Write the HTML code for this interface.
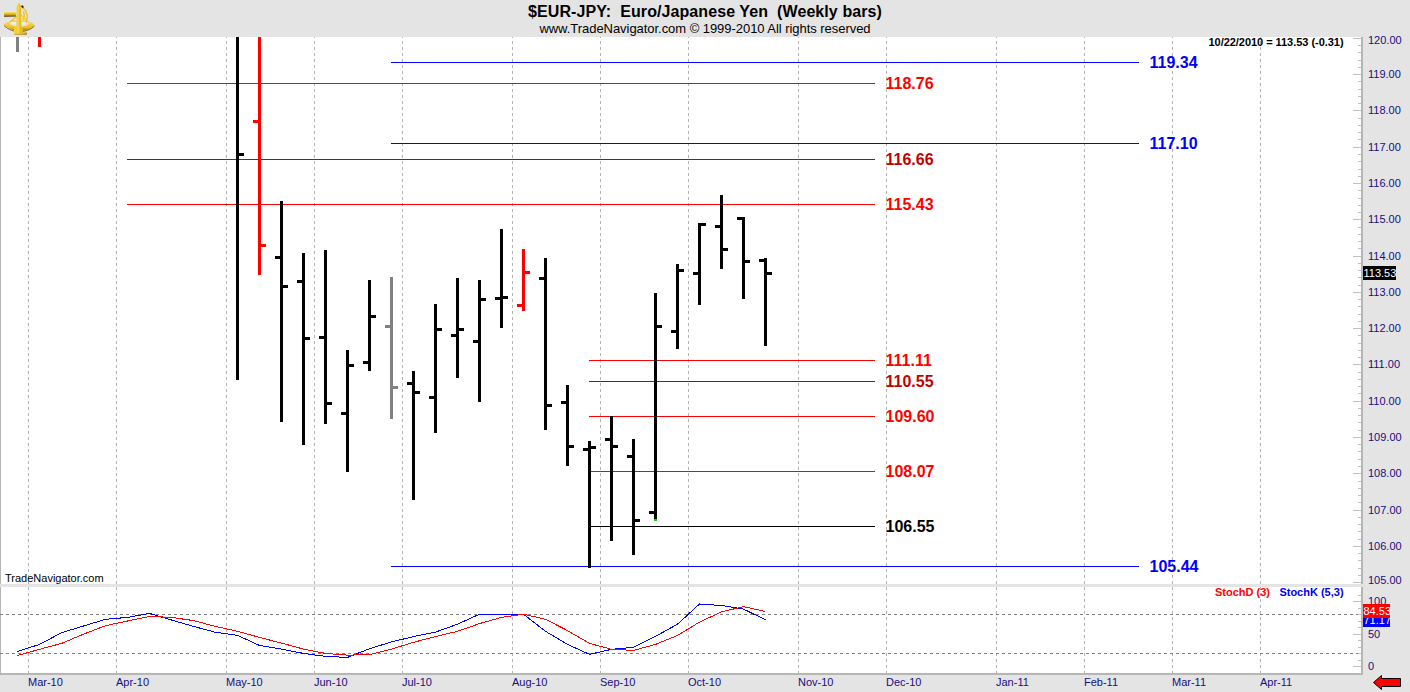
<!DOCTYPE html><html><head><meta charset="utf-8"><title>$EUR-JPY Weekly</title><style>
html,body{margin:0;padding:0}
body{width:1410px;height:692px;overflow:hidden;background:#e4e4e4;position:relative;font-family:"Liberation Sans",Arial,sans-serif}
.t{position:absolute;white-space:nowrap;line-height:1}
.ttl{left:0;width:1410px;text-align:center;font-weight:bold;font-size:16px;color:#000;top:4px;letter-spacing:0.08px}
.sub{left:0px;width:1410px;text-align:center;font-size:13px;color:#000;top:22px;letter-spacing:-0.045px}
.pl{font-weight:bold;font-size:16px}
.ax{font-size:11px;color:#160e82}
.dt{font-size:11px;color:#160e82}
.b11{font-weight:bold;font-size:11px}
svg{position:absolute;left:0;top:0}

</style></head><body>
<svg width="1410" height="692" viewBox="0 0 1410 692">
<g shape-rendering="crispEdges">
<rect x="0" y="37" width="1363" height="547" fill="#fff"/>
<rect x="0" y="587" width="1363" height="88" fill="#fff"/>
<rect x="0" y="37" width="1" height="547" fill="#b6b6b6"/>
<rect x="0" y="587" width="1" height="88" fill="#b6b6b6"/>
<rect x="1361" y="37" width="2" height="547" fill="#b6b6b6"/>
<rect x="1361" y="587" width="2" height="88" fill="#b6b6b6"/>
<rect x="0" y="673" width="1363" height="2" fill="#b6b6b6"/>
<line x1="28.5" x2="28.5" y1="35" y2="584" stroke="#b4b4b4" stroke-width="1" stroke-dasharray="3 3"/>
<line x1="28.5" x2="28.5" y1="587" y2="673" stroke="#b4b4b4" stroke-width="1" stroke-dasharray="3 3"/>
<line x1="116.5" x2="116.5" y1="35" y2="584" stroke="#b4b4b4" stroke-width="1" stroke-dasharray="3 3"/>
<line x1="116.5" x2="116.5" y1="587" y2="673" stroke="#b4b4b4" stroke-width="1" stroke-dasharray="3 3"/>
<line x1="226.5" x2="226.5" y1="35" y2="584" stroke="#b4b4b4" stroke-width="1" stroke-dasharray="3 3"/>
<line x1="226.5" x2="226.5" y1="587" y2="673" stroke="#b4b4b4" stroke-width="1" stroke-dasharray="3 3"/>
<line x1="314.5" x2="314.5" y1="35" y2="584" stroke="#b4b4b4" stroke-width="1" stroke-dasharray="3 3"/>
<line x1="314.5" x2="314.5" y1="587" y2="673" stroke="#b4b4b4" stroke-width="1" stroke-dasharray="3 3"/>
<line x1="402.5" x2="402.5" y1="35" y2="584" stroke="#b4b4b4" stroke-width="1" stroke-dasharray="3 3"/>
<line x1="402.5" x2="402.5" y1="587" y2="673" stroke="#b4b4b4" stroke-width="1" stroke-dasharray="3 3"/>
<line x1="512.5" x2="512.5" y1="35" y2="584" stroke="#b4b4b4" stroke-width="1" stroke-dasharray="3 3"/>
<line x1="512.5" x2="512.5" y1="587" y2="673" stroke="#b4b4b4" stroke-width="1" stroke-dasharray="3 3"/>
<line x1="600.5" x2="600.5" y1="35" y2="584" stroke="#b4b4b4" stroke-width="1" stroke-dasharray="3 3"/>
<line x1="600.5" x2="600.5" y1="587" y2="673" stroke="#b4b4b4" stroke-width="1" stroke-dasharray="3 3"/>
<line x1="688.5" x2="688.5" y1="35" y2="584" stroke="#b4b4b4" stroke-width="1" stroke-dasharray="3 3"/>
<line x1="688.5" x2="688.5" y1="587" y2="673" stroke="#b4b4b4" stroke-width="1" stroke-dasharray="3 3"/>
<line x1="798.5" x2="798.5" y1="35" y2="584" stroke="#b4b4b4" stroke-width="1" stroke-dasharray="3 3"/>
<line x1="798.5" x2="798.5" y1="587" y2="673" stroke="#b4b4b4" stroke-width="1" stroke-dasharray="3 3"/>
<line x1="886.5" x2="886.5" y1="35" y2="584" stroke="#b4b4b4" stroke-width="1" stroke-dasharray="3 3"/>
<line x1="886.5" x2="886.5" y1="587" y2="673" stroke="#b4b4b4" stroke-width="1" stroke-dasharray="3 3"/>
<line x1="996.5" x2="996.5" y1="35" y2="584" stroke="#b4b4b4" stroke-width="1" stroke-dasharray="3 3"/>
<line x1="996.5" x2="996.5" y1="587" y2="673" stroke="#b4b4b4" stroke-width="1" stroke-dasharray="3 3"/>
<line x1="1084.5" x2="1084.5" y1="35" y2="584" stroke="#b4b4b4" stroke-width="1" stroke-dasharray="3 3"/>
<line x1="1084.5" x2="1084.5" y1="587" y2="673" stroke="#b4b4b4" stroke-width="1" stroke-dasharray="3 3"/>
<line x1="1172.5" x2="1172.5" y1="35" y2="584" stroke="#b4b4b4" stroke-width="1" stroke-dasharray="3 3"/>
<line x1="1172.5" x2="1172.5" y1="587" y2="673" stroke="#b4b4b4" stroke-width="1" stroke-dasharray="3 3"/>
<line x1="1260.5" x2="1260.5" y1="35" y2="584" stroke="#b4b4b4" stroke-width="1" stroke-dasharray="3 3"/>
<line x1="1260.5" x2="1260.5" y1="587" y2="673" stroke="#b4b4b4" stroke-width="1" stroke-dasharray="3 3"/>
<rect x="0" y="0" width="1410" height="37" fill="#e4e4e4"/>
<line x1="0" x2="1361" y1="614.5" y2="614.5" stroke="#808080" stroke-width="1" stroke-dasharray="3 3"/>
<line x1="0" x2="1361" y1="653.5" y2="653.5" stroke="#808080" stroke-width="1" stroke-dasharray="3 3"/>
<rect x="1353" y="38" width="8" height="1" fill="#c0c0c0"/>
<rect x="1358" y="45" width="3" height="1" fill="#c0c0c0"/>
<rect x="1358" y="52" width="3" height="1" fill="#c0c0c0"/>
<rect x="1358" y="60" width="3" height="1" fill="#c0c0c0"/>
<rect x="1358" y="67" width="3" height="1" fill="#c0c0c0"/>
<rect x="1353" y="74" width="8" height="1" fill="#c0c0c0"/>
<rect x="1358" y="81" width="3" height="1" fill="#c0c0c0"/>
<rect x="1358" y="89" width="3" height="1" fill="#c0c0c0"/>
<rect x="1358" y="96" width="3" height="1" fill="#c0c0c0"/>
<rect x="1358" y="103" width="3" height="1" fill="#c0c0c0"/>
<rect x="1353" y="110" width="8" height="1" fill="#c0c0c0"/>
<rect x="1358" y="118" width="3" height="1" fill="#c0c0c0"/>
<rect x="1358" y="125" width="3" height="1" fill="#c0c0c0"/>
<rect x="1358" y="132" width="3" height="1" fill="#c0c0c0"/>
<rect x="1358" y="139" width="3" height="1" fill="#c0c0c0"/>
<rect x="1353" y="147" width="8" height="1" fill="#c0c0c0"/>
<rect x="1358" y="154" width="3" height="1" fill="#c0c0c0"/>
<rect x="1358" y="161" width="3" height="1" fill="#c0c0c0"/>
<rect x="1358" y="169" width="3" height="1" fill="#c0c0c0"/>
<rect x="1358" y="176" width="3" height="1" fill="#c0c0c0"/>
<rect x="1353" y="183" width="8" height="1" fill="#c0c0c0"/>
<rect x="1358" y="190" width="3" height="1" fill="#c0c0c0"/>
<rect x="1358" y="198" width="3" height="1" fill="#c0c0c0"/>
<rect x="1358" y="205" width="3" height="1" fill="#c0c0c0"/>
<rect x="1358" y="212" width="3" height="1" fill="#c0c0c0"/>
<rect x="1353" y="219" width="8" height="1" fill="#c0c0c0"/>
<rect x="1358" y="227" width="3" height="1" fill="#c0c0c0"/>
<rect x="1358" y="234" width="3" height="1" fill="#c0c0c0"/>
<rect x="1358" y="241" width="3" height="1" fill="#c0c0c0"/>
<rect x="1358" y="248" width="3" height="1" fill="#c0c0c0"/>
<rect x="1353" y="256" width="8" height="1" fill="#c0c0c0"/>
<rect x="1358" y="263" width="3" height="1" fill="#c0c0c0"/>
<rect x="1358" y="270" width="3" height="1" fill="#c0c0c0"/>
<rect x="1358" y="277" width="3" height="1" fill="#c0c0c0"/>
<rect x="1358" y="285" width="3" height="1" fill="#c0c0c0"/>
<rect x="1353" y="292" width="8" height="1" fill="#c0c0c0"/>
<rect x="1358" y="299" width="3" height="1" fill="#c0c0c0"/>
<rect x="1358" y="306" width="3" height="1" fill="#c0c0c0"/>
<rect x="1358" y="314" width="3" height="1" fill="#c0c0c0"/>
<rect x="1358" y="321" width="3" height="1" fill="#c0c0c0"/>
<rect x="1353" y="328" width="8" height="1" fill="#c0c0c0"/>
<rect x="1358" y="335" width="3" height="1" fill="#c0c0c0"/>
<rect x="1358" y="343" width="3" height="1" fill="#c0c0c0"/>
<rect x="1358" y="350" width="3" height="1" fill="#c0c0c0"/>
<rect x="1358" y="357" width="3" height="1" fill="#c0c0c0"/>
<rect x="1353" y="364" width="8" height="1" fill="#c0c0c0"/>
<rect x="1358" y="372" width="3" height="1" fill="#c0c0c0"/>
<rect x="1358" y="379" width="3" height="1" fill="#c0c0c0"/>
<rect x="1358" y="386" width="3" height="1" fill="#c0c0c0"/>
<rect x="1358" y="393" width="3" height="1" fill="#c0c0c0"/>
<rect x="1353" y="401" width="8" height="1" fill="#c0c0c0"/>
<rect x="1358" y="408" width="3" height="1" fill="#c0c0c0"/>
<rect x="1358" y="415" width="3" height="1" fill="#c0c0c0"/>
<rect x="1358" y="422" width="3" height="1" fill="#c0c0c0"/>
<rect x="1358" y="430" width="3" height="1" fill="#c0c0c0"/>
<rect x="1353" y="437" width="8" height="1" fill="#c0c0c0"/>
<rect x="1358" y="444" width="3" height="1" fill="#c0c0c0"/>
<rect x="1358" y="451" width="3" height="1" fill="#c0c0c0"/>
<rect x="1358" y="459" width="3" height="1" fill="#c0c0c0"/>
<rect x="1358" y="466" width="3" height="1" fill="#c0c0c0"/>
<rect x="1353" y="473" width="8" height="1" fill="#c0c0c0"/>
<rect x="1358" y="481" width="3" height="1" fill="#c0c0c0"/>
<rect x="1358" y="488" width="3" height="1" fill="#c0c0c0"/>
<rect x="1358" y="495" width="3" height="1" fill="#c0c0c0"/>
<rect x="1358" y="502" width="3" height="1" fill="#c0c0c0"/>
<rect x="1353" y="510" width="8" height="1" fill="#c0c0c0"/>
<rect x="1358" y="517" width="3" height="1" fill="#c0c0c0"/>
<rect x="1358" y="524" width="3" height="1" fill="#c0c0c0"/>
<rect x="1358" y="531" width="3" height="1" fill="#c0c0c0"/>
<rect x="1358" y="539" width="3" height="1" fill="#c0c0c0"/>
<rect x="1353" y="546" width="8" height="1" fill="#c0c0c0"/>
<rect x="1358" y="553" width="3" height="1" fill="#c0c0c0"/>
<rect x="1358" y="560" width="3" height="1" fill="#c0c0c0"/>
<rect x="1358" y="568" width="3" height="1" fill="#c0c0c0"/>
<rect x="1358" y="575" width="3" height="1" fill="#c0c0c0"/>
<rect x="1353" y="582" width="8" height="1" fill="#c0c0c0"/>
<rect x="1353" y="666" width="8" height="1" fill="#c0c0c0"/>
<rect x="1358" y="660" width="3" height="1" fill="#c0c0c0"/>
<rect x="1358" y="653" width="3" height="1" fill="#c0c0c0"/>
<rect x="1358" y="647" width="3" height="1" fill="#c0c0c0"/>
<rect x="1358" y="640" width="3" height="1" fill="#c0c0c0"/>
<rect x="1353" y="634" width="8" height="1" fill="#c0c0c0"/>
<rect x="1358" y="627" width="3" height="1" fill="#c0c0c0"/>
<rect x="1358" y="621" width="3" height="1" fill="#c0c0c0"/>
<rect x="1358" y="614" width="3" height="1" fill="#c0c0c0"/>
<rect x="1358" y="608" width="3" height="1" fill="#c0c0c0"/>
<rect x="1353" y="601" width="8" height="1" fill="#c0c0c0"/>
<rect x="1358" y="595" width="3" height="1" fill="#c0c0c0"/>
<rect x="391" y="62" width="748" height="1" fill="#0000ff"/>
<rect x="391" y="143" width="748" height="1" fill="#0000ff"/>
<rect x="391" y="566" width="748" height="1" fill="#0000ff"/>
<rect x="127" y="83" width="748" height="1" fill="#ff0000"/>
<rect x="127" y="159" width="748" height="1" fill="#c40000"/>
<rect x="127" y="204" width="748" height="1" fill="#ff0000"/>
<rect x="589" y="360" width="286" height="1" fill="#ff0000"/>
<rect x="589" y="381" width="286" height="1" fill="#c40000"/>
<rect x="589" y="416" width="286" height="1" fill="#ff0000"/>
<rect x="589" y="471" width="286" height="1" fill="#ff0000"/>
<rect x="589" y="526" width="286" height="1" fill="#000"/>
<rect x="16" y="37" width="3" height="15" fill="#808080"/>
<rect x="38" y="37" width="3" height="10" fill="#ff0000"/>
<rect x="236" y="37" width="3" height="343" fill="#000"/>
<rect x="239" y="153" width="5" height="3" fill="#000"/>
<rect x="258" y="37" width="3" height="238" fill="#ff0000"/>
<rect x="253" y="120" width="5" height="3" fill="#ff0000"/>
<rect x="261" y="244" width="5" height="3" fill="#ff0000"/>
<rect x="280" y="201" width="3" height="221" fill="#000"/>
<rect x="275" y="256" width="5" height="3" fill="#000"/>
<rect x="283" y="285" width="5" height="3" fill="#000"/>
<rect x="302" y="253" width="3" height="192" fill="#000"/>
<rect x="297" y="280" width="5" height="3" fill="#000"/>
<rect x="305" y="337" width="5" height="3" fill="#000"/>
<rect x="324" y="250" width="3" height="174" fill="#000"/>
<rect x="319" y="336" width="5" height="3" fill="#000"/>
<rect x="327" y="402" width="5" height="3" fill="#000"/>
<rect x="346" y="350" width="3" height="122" fill="#000"/>
<rect x="341" y="412" width="5" height="3" fill="#000"/>
<rect x="349" y="364" width="5" height="3" fill="#000"/>
<rect x="368" y="280" width="3" height="91" fill="#000"/>
<rect x="363" y="361" width="5" height="3" fill="#000"/>
<rect x="371" y="315" width="5" height="3" fill="#000"/>
<rect x="390" y="277" width="3" height="142" fill="#808080"/>
<rect x="385" y="325" width="5" height="3" fill="#808080"/>
<rect x="393" y="386" width="5" height="3" fill="#808080"/>
<rect x="412" y="371" width="3" height="129" fill="#000"/>
<rect x="407" y="382" width="5" height="3" fill="#000"/>
<rect x="415" y="391" width="5" height="3" fill="#000"/>
<rect x="434" y="304" width="3" height="129" fill="#000"/>
<rect x="429" y="396" width="5" height="3" fill="#000"/>
<rect x="437" y="328" width="5" height="3" fill="#000"/>
<rect x="456" y="278" width="3" height="100" fill="#000"/>
<rect x="451" y="334" width="5" height="3" fill="#000"/>
<rect x="459" y="328" width="5" height="3" fill="#000"/>
<rect x="478" y="280" width="3" height="122" fill="#000"/>
<rect x="473" y="340" width="5" height="3" fill="#000"/>
<rect x="481" y="298" width="5" height="3" fill="#000"/>
<rect x="500" y="229" width="3" height="99" fill="#000"/>
<rect x="495" y="297" width="5" height="3" fill="#000"/>
<rect x="503" y="296" width="5" height="3" fill="#000"/>
<rect x="522" y="249" width="3" height="62" fill="#ff0000"/>
<rect x="517" y="304" width="5" height="3" fill="#ff0000"/>
<rect x="525" y="271" width="5" height="3" fill="#ff0000"/>
<rect x="544" y="258" width="3" height="172" fill="#000"/>
<rect x="539" y="277" width="5" height="3" fill="#000"/>
<rect x="547" y="404" width="5" height="3" fill="#000"/>
<rect x="566" y="385" width="3" height="81" fill="#000"/>
<rect x="561" y="401" width="5" height="3" fill="#000"/>
<rect x="569" y="445" width="5" height="3" fill="#000"/>
<rect x="588" y="441" width="3" height="127" fill="#000"/>
<rect x="583" y="448" width="5" height="3" fill="#000"/>
<rect x="591" y="446" width="5" height="3" fill="#000"/>
<rect x="610" y="416" width="3" height="125" fill="#000"/>
<rect x="605" y="438" width="5" height="3" fill="#000"/>
<rect x="613" y="445" width="5" height="3" fill="#000"/>
<rect x="632" y="439" width="3" height="116" fill="#000"/>
<rect x="627" y="455" width="5" height="3" fill="#000"/>
<rect x="635" y="519" width="5" height="3" fill="#000"/>
<rect x="654" y="293" width="3" height="226" fill="#000"/>
<rect x="649" y="511" width="5" height="3" fill="#000"/>
<rect x="657" y="325" width="5" height="3" fill="#000"/>
<rect x="676" y="264" width="3" height="85" fill="#000"/>
<rect x="671" y="330" width="5" height="3" fill="#000"/>
<rect x="679" y="269" width="5" height="3" fill="#000"/>
<rect x="698" y="223" width="3" height="82" fill="#000"/>
<rect x="693" y="272" width="5" height="3" fill="#000"/>
<rect x="701" y="223" width="5" height="3" fill="#000"/>
<rect x="720" y="195" width="3" height="74" fill="#000"/>
<rect x="715" y="225" width="5" height="3" fill="#000"/>
<rect x="723" y="248" width="5" height="3" fill="#000"/>
<rect x="742" y="217" width="3" height="82" fill="#000"/>
<rect x="737" y="217" width="5" height="3" fill="#000"/>
<rect x="745" y="260" width="5" height="3" fill="#000"/>
<rect x="764" y="258" width="3" height="88" fill="#000"/>
<rect x="759" y="259" width="5" height="3" fill="#000"/>
<rect x="767" y="272" width="5" height="3" fill="#000"/>
<rect x="654" y="519" width="3" height="2" fill="#00e000"/>
<polyline fill="none" stroke="#0000ff" stroke-width="1" points="17.5,651.5 39.5,644.4 61.5,632.7 83.5,626 105.5,619.3 127.5,617.4 149.5,613.4 171.5,620 193.5,626.4 215.5,632.3 237.5,635.3 259.5,645.5 281.5,649.1 303.5,653.4 325.5,656.4 347.5,657.4 369.5,648.7 391.5,641.9 413.5,636.6 435.5,632.1 457.5,624.2 479.5,614.2 501.5,614.2 523.5,614.2 545.5,631.3 567.5,644.4 589.5,654.4 611.5,649.3 633.5,647.4 655.5,636.4 677.5,624.2 699.5,604 721.5,605.5 743.5,609.1 765.5,619.8"/>
<polyline fill="none" stroke="#ff0000" stroke-width="1" points="17.5,655.5 39.5,649.3 61.5,643.4 83.5,634.2 105.5,625.7 127.5,621 149.5,616.4 171.5,617.4 193.5,620.6 215.5,626.4 237.5,631.3 259.5,637.4 281.5,643.1 303.5,649.1 325.5,653.4 347.5,655.1 369.5,654.7 391.5,649.1 413.5,642.3 435.5,636.6 457.5,631.3 479.5,623.6 501.5,617.4 523.5,614.2 545.5,619.3 567.5,630.6 589.5,643.4 611.5,649.3 633.5,650.4 655.5,644.4 677.5,635.5 699.5,622.1 721.5,611.9 743.5,606.6 765.5,611.5"/>
<rect x="1363" y="613" width="27" height="14" fill="#0000ff"/>
<rect x="1363" y="604" width="27" height="14" fill="#ff0000"/>
<rect x="1363" y="266" width="33" height="14" fill="#000"/>
</g>
<polygon points="1373.5,682.5 1381.5,675.5 1381.5,678.5 1400.5,678.5 1400.5,686.5 1381.5,686.5 1381.5,689.5" fill="#ff0000" stroke="#000" stroke-width="1"/>
<defs><linearGradient id="tg" x1="0" y1="0" x2="0" y2="1"><stop offset="0" stop-color="#fff8b0"/><stop offset="0.35" stop-color="#f5cf2e"/><stop offset="0.7" stop-color="#c89a10"/><stop offset="1" stop-color="#2a2000"/></linearGradient>
<linearGradient id="cg" x1="0" y1="0" x2="1" y2="0"><stop offset="0" stop-color="#f7d53a"/><stop offset="0.55" stop-color="#e8bc22"/><stop offset="1" stop-color="#b98f12"/></linearGradient>
<linearGradient id="ag" x1="0" y1="0" x2="0" y2="1"><stop offset="0" stop-color="#f9d840"/><stop offset="0.6" stop-color="#f0be22"/><stop offset="1" stop-color="#9a7408"/></linearGradient></defs>
<g id="logo">
<path d="M16.6 17.5 L9.5 23 L16.6 24.5 Z M21.4 16 L28.6 22.5 L21.4 24.6 Z" fill="#f4f0e0" opacity="0.9"/>
<path d="M17 16.2 L8.2 23.6 M21 15 L29.6 23.4 M10 21.2 L16.8 21.2 M21.3 21.2 L28 21.2" fill="none" stroke="#f0c630" stroke-width="1.3"/>
<path d="M21.5 6.8 L25.6 10.6 L27.4 16.5 L26.2 22.6 M23.6 11.5 L24.4 16.5 L22.5 20" fill="none" stroke="#ecc22c" stroke-width="1.4"/>
<path d="M21.6 5.6 L23.4 7.6" stroke="#3a2c08" stroke-width="1.7"/>
<path d="M7.1 22 A17.4 17.4 0 0 0 31.3 22 L34.9 25.4 A23 23 0 0 1 3.7 24.6 Z" fill="url(#ag)"/>
<path d="M4 25.6 A22.6 22.6 0 0 0 34.4 26.2" fill="none" stroke="#6e5406" stroke-width="1" opacity="0.8"/>
<path d="M19.2 2.8 L21 6 L21.4 26.4 L23 28 L23 32.4 L27 32.4 L27 34.4 L23 34.6 L14 34.6 L14 28 L16.5 26.4 L16.7 6 Z" fill="url(#cg)"/>
<path d="M18.1 5 L18.1 33.4" stroke="#fbe66e" stroke-width="0.9" opacity="0.85"/>
<path d="M14.3 34.4 L26.8 34.4" stroke="#8a6c0a" stroke-width="0.7" opacity="0.7"/>
<path d="M4.1 11 L15.9 11.3 L15.9 16.6 L4.1 16.8 Z" fill="url(#tg)"/>
</g>
</svg>
<div class="t ttl">$EUR-JPY:&nbsp; Euro/Japanese Yen&nbsp; (Weekly bars)</div>
<div class="t sub">www.TradeNavigator.com © 1999-2010 All rights reserved</div>
<div class="t b11" style="left:1208.5px;top:37px;color:#000;letter-spacing:-0.04px">10/22/2010 = 113.53 (-0.31)</div>
<div class="t pl" style="left:1149.5px;top:55px;color:#0000ff">119.34</div>
<div class="t pl" style="left:1149.5px;top:136px;color:#0000ff">117.10</div>
<div class="t pl" style="left:1149.5px;top:559px;color:#0000ff">105.44</div>
<div class="t pl" style="left:885.5px;top:76px;color:#ff0000">118.76</div>
<div class="t pl" style="left:885.5px;top:152px;color:#c40000">116.66</div>
<div class="t pl" style="left:885.5px;top:197px;color:#ff0000">115.43</div>
<div class="t pl" style="left:885.5px;top:353px;color:#ff0000">111.11</div>
<div class="t pl" style="left:885.5px;top:374px;color:#c40000">110.55</div>
<div class="t pl" style="left:885.5px;top:409px;color:#ff0000">109.60</div>
<div class="t pl" style="left:885.5px;top:464px;color:#ff0000">108.07</div>
<div class="t pl" style="left:885.5px;top:519px;color:#000">106.55</div>
<div class="t ax" style="left:1368px;top:35.0px">120.00</div>
<div class="t ax" style="left:1368px;top:69.0px">119.00</div>
<div class="t ax" style="left:1368px;top:105.0px">118.00</div>
<div class="t ax" style="left:1368px;top:142.0px">117.00</div>
<div class="t ax" style="left:1368px;top:178.0px">116.00</div>
<div class="t ax" style="left:1368px;top:214.0px">115.00</div>
<div class="t ax" style="left:1368px;top:251.0px">114.00</div>
<div class="t ax" style="left:1368px;top:287.0px">113.00</div>
<div class="t ax" style="left:1368px;top:323.0px">112.00</div>
<div class="t ax" style="left:1368px;top:359.0px">111.00</div>
<div class="t ax" style="left:1368px;top:396.0px">110.00</div>
<div class="t ax" style="left:1368px;top:432.0px">109.00</div>
<div class="t ax" style="left:1368px;top:468.0px">108.00</div>
<div class="t ax" style="left:1368px;top:505.0px">107.00</div>
<div class="t ax" style="left:1368px;top:541.0px">106.00</div>
<div class="t ax" style="left:1368px;top:575.0px">105.00</div>
<div class="t ax" style="left:1368px;top:596px">100</div>
<div class="t ax" style="left:1368px;top:629px">50</div>
<div class="t ax" style="left:1368px;top:661px">0</div>
<div class="t ax" style="left:1363.5px;top:614.5px;color:#fff">71.17</div>
<svg width="27" height="14" style="left:1363px;top:604px"><rect width="27" height="14" fill="#ff0000"/></svg>
<div class="t ax" style="left:1363.5px;top:605.5px;color:#fff">84.53</div>
<div class="t ax" style="left:1363.5px;top:267.5px;color:#fff">113.53</div>
<div class="t b11" style="left:1215px;top:586.5px;color:#ff0000">StochD (3)</div>
<div class="t b11" style="left:1279.4px;top:586.5px;color:#0000ff">StochK (5,3)</div>
<div class="t" style="left:5px;top:572.5px;font-size:11px;color:#000">TradeNavigator.com</div>
<div class="t dt" style="left:28px;top:677px">Mar-10</div>
<div class="t dt" style="left:116px;top:677px">Apr-10</div>
<div class="t dt" style="left:226px;top:677px">May-10</div>
<div class="t dt" style="left:314px;top:677px">Jun-10</div>
<div class="t dt" style="left:402px;top:677px">Jul-10</div>
<div class="t dt" style="left:512px;top:677px">Aug-10</div>
<div class="t dt" style="left:600px;top:677px">Sep-10</div>
<div class="t dt" style="left:688px;top:677px">Oct-10</div>
<div class="t dt" style="left:798px;top:677px">Nov-10</div>
<div class="t dt" style="left:886px;top:677px">Dec-10</div>
<div class="t dt" style="left:996px;top:677px">Jan-11</div>
<div class="t dt" style="left:1084px;top:677px">Feb-11</div>
<div class="t dt" style="left:1172px;top:677px">Mar-11</div>
<div class="t dt" style="left:1260px;top:677px">Apr-11</div>
</body></html>
